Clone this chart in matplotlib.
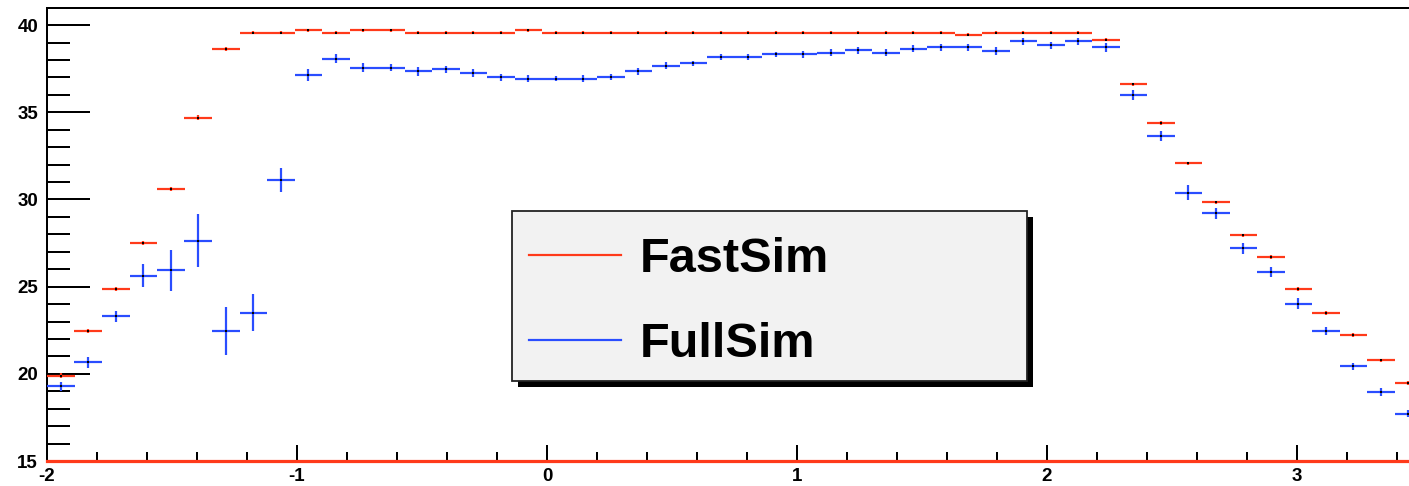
import numpy as np
import matplotlib
matplotlib.use("Agg")
import matplotlib.pyplot as plt
from matplotlib.lines import Line2D
from matplotlib.patches import Rectangle

# ---- histogram binning ----
x_min, x_max, n_bins = -2.0, 3.5, 50

# ---- data ----
fastsim = [19.90, 22.45, 24.87, 27.52, 30.60, 34.70, 38.63,
           39.56, 39.56, 39.70, 39.56, 39.70, 39.70, 39.56, 39.56, 39.56, 39.56,
           39.70, 39.56, 39.56, 39.56, 39.56, 39.56, 39.56, 39.56, 39.56, 39.56,
           39.56, 39.56, 39.56, 39.56, 39.56, 39.56, 39.45, 39.56, 39.56, 39.56,
           39.56, 39.16, 36.60, 34.39, 32.07, 29.83, 27.94, 26.69, 24.87, 23.50,
           22.24, 20.77, 19.47]
fastsim_err = [0.14, 0.12, 0.12, 0.12, 0.12, 0.12, 0.10,
               0.08, 0.08, 0.08, 0.08, 0.08, 0.08, 0.08, 0.08, 0.08, 0.08,
               0.08, 0.08, 0.08, 0.08, 0.08, 0.08, 0.08, 0.08, 0.08, 0.08,
               0.08, 0.08, 0.08, 0.08, 0.08, 0.08, 0.08, 0.08, 0.08, 0.08,
               0.08, 0.10, 0.10, 0.10, 0.10, 0.10, 0.10, 0.12, 0.10, 0.10,
               0.10, 0.10, 0.12]
fullsim = [19.28, 20.65, 23.29, 25.62, 25.94, 27.64, 22.45, 23.50, 31.11, 37.14,
           38.08, 37.56, 37.56, 37.35, 37.46, 37.25, 37.02, 36.93, 36.93, 36.93,
           37.02, 37.35, 37.67, 37.80, 38.17, 38.17, 38.32, 38.32, 38.42, 38.55,
           38.42, 38.65, 38.74, 38.74, 38.52, 39.07, 38.84, 39.06, 38.72, 35.98,
           33.65, 30.38, 29.20, 27.20, 25.83, 24.03, 22.45, 20.44, 18.96, 17.70]
fullsim_err = [0.24, 0.29, 0.31, 0.65, 1.17, 1.53, 1.36, 1.06, 0.69, 0.36,
               0.24, 0.25, 0.22, 0.25, 0.22, 0.25, 0.20, 0.20, 0.15, 0.20,
               0.15, 0.20, 0.20, 0.15, 0.15, 0.20, 0.15, 0.20, 0.20, 0.20,
               0.20, 0.20, 0.20, 0.20, 0.25, 0.20, 0.20, 0.20, 0.25, 0.30,
               0.30, 0.43, 0.30, 0.30, 0.30, 0.30, 0.25, 0.20, 0.25, 0.20]

labels = ["FastSim", "FullSim"]
x_ticks = [-2, -1, 0, 1, 2, 3]
x_ticklabels = ["-2", "-1", "0", "1", "2", "3"]
y_ticks = [15, 20, 25, 30, 35, 40]
y_ticklabels = ["15", "20", "25", "30", "35", "40"]

RED = "#ff3a1a"
BLUE = "#2a4dff"

W, H, DPI = 1409, 486, 100
fig = plt.figure(figsize=(W / DPI, H / DPI), dpi=DPI)
fig.patch.set_facecolor("white")

# axes: left edge at 47 px, x=3.5 would be at 1422 px (cropped), bottom 461 px, top 8 px
ax = fig.add_axes([47 / W, (H - 461) / H, (1422 - 47) / W, (461 - 8) / H])

edges = np.linspace(x_min, x_max, n_bins + 1)
centers = 0.5 * (edges[:-1] + edges[1:])
half_w = 0.5 * (edges[1] - edges[0])

px = 72.0 / DPI  # points per pixel

ax.errorbar(centers, fastsim, xerr=half_w, yerr=fastsim_err, fmt="none",
            ecolor=RED, elinewidth=2.2 * px, capsize=0, zorder=3)
ax.plot(centers, fastsim, "s", ms=1.6, color="black", zorder=4, mew=0)
ax.errorbar(centers, fullsim, xerr=half_w, yerr=fullsim_err, fmt="none",
            ecolor=BLUE, elinewidth=2.2 * px, capsize=0, zorder=3)
ax.plot(centers, fullsim, "s", ms=1.6, color="black", zorder=4, mew=0)

# red baseline along the bottom
ax.axhline(15, color=RED, lw=3.2 * px, zorder=6, clip_on=False)

ax.set_xlim(x_min, x_max)
ax.set_ylim(15, 40.98)

ax.set_xticks(x_ticks)
ax.set_xticklabels(x_ticklabels)
ax.set_xticks(np.arange(-2, 3.51, 0.2), minor=True)
ax.set_yticks(y_ticks)
ax.set_yticklabels(y_ticklabels)
ax.set_yticks(np.arange(15, 41, 1), minor=True)

for lab in ax.get_xticklabels() + ax.get_yticklabels():
    lab.set_fontfamily("Liberation Sans")
    lab.set_fontweight("bold")
    lab.set_fontsize(13.5)

ax.tick_params(axis="y", which="major", direction="in", length=43 * px, width=2 * px, pad=9 * px, right=False)
ax.tick_params(axis="y", which="minor", direction="in", length=23 * px, width=2 * px, right=False)
ax.tick_params(axis="x", which="major", direction="in", length=16 * px, width=2 * px, pad=7 * px, top=False)
ax.tick_params(axis="x", which="minor", direction="in", length=9 * px, width=2 * px, top=False)

for s in ["left", "top", "bottom", "right"]:
    ax.spines[s].set_linewidth(2 * px)
    ax.spines[s].set_color("black")

# legend box (frame + black shadow) in figure pixels
bx0, by0, bx1, by1 = 511.5, 211.5, 1027, 381
sh = 6
def fig_rect(x0, y0, x1, y1, **kw):
    r = Rectangle((x0 / W, 1 - y1 / H), (x1 - x0) / W, (y1 - y0) / H,
                  transform=fig.transFigure, clip_on=False, **kw)
    ax.add_patch(r)
    return r
fig_rect(bx0 + sh, by0 + sh, bx1 + sh, by1 + sh, facecolor="black", edgecolor="black", lw=0, zorder=4.4)
fig_rect(bx0, by0, bx1, by1, facecolor="#f2f2f2", edgecolor="#222222", lw=1.8 * px, zorder=4.5)

handles = [Line2D([], [], color=RED, lw=2.2 * px), Line2D([], [], color=BLUE, lw=2.2 * px)]
leg = ax.legend(handles, labels, loc="upper left",
                bbox_to_anchor=(529 / W, 1 - 237.5 / H),
                bbox_transform=fig.transFigure, frameon=False,
                prop=dict(family="Liberation Sans", weight="bold", size=35),
                handlelength=1.9, handletextpad=0.38, borderpad=0,
                labelspacing=0.82, borderaxespad=0)
leg.set_zorder(5)

fig.savefig("out.png", dpi=DPI, facecolor="white")
